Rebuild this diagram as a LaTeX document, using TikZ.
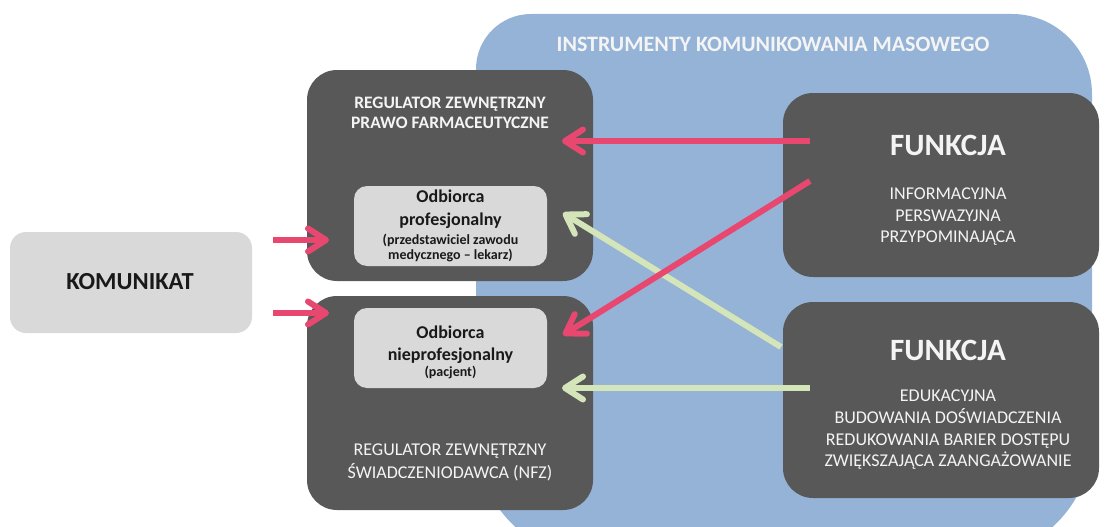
\documentclass[tikz,border=0pt]{standalone}
\usepackage{fontspec}
\setmainfont{Carlito}
\usetikzlibrary{arrows.meta}

\definecolor{massblue}{HTML}{95B3D7}
\definecolor{boxdark}{HTML}{585858}
\definecolor{boxlight}{HTML}{D9D9D9}
\definecolor{txtlight}{HTML}{F4F4F4}
\definecolor{linkpink}{HTML}{E8476F}
\definecolor{linkgreen}{HTML}{D5E5BA}

\newcommand\setfs[2]{\fontsize{#1}{#2}\selectfont}

\tikzset{
  darkbox/.style={fill=boxdark, rounded corners=30pt, inner sep=0pt},
  litebox/.style={fill=boxlight, rounded corners=13pt, inner sep=0pt},
  ondark/.style={text=txtlight, align=center, inner sep=0pt},
  onlite/.style={text=black!90, align=center, inner sep=0pt},
  link/.style={line width=6pt,
    -{Straight Barb[length=18pt,width=23pt,round]}},
  pinklink/.style={link, draw=linkpink},
  greenlink/.style={link, draw=linkgreen},
}

\begin{document}
\begin{tikzpicture}[x=1pt,y=-1pt]
\useasboundingbox (0,0) rectangle (1105,527);
\clip (0,0) rectangle (1105,527);

% mass-communication area in the background
\fill[massblue] (476,69) arc[start angle=180,end angle=270,radius=55]
  -- (1012,14) arc[start angle=270,end angle=360,radius=80]
  -- (1092,438) arc[start angle=0,end angle=90,radius=120]
  -- (596,558) arc[start angle=90,end angle=180,radius=120] -- cycle;
\node[text=txtlight, font=\bfseries\setfs{22}{26}, inner sep=0pt] (title) at (773,44)
  {INSTRUMENTY KOMUNIKOWANIA MASOWEGO};

% message
\node[litebox, rounded corners=16pt, minimum width=242pt, minimum height=101pt] (kom) at (131,282.5) {};
\node[onlite, font=\bfseries\setfs{24.5}{28}] (komtxt) at (130,282) {KOMUNIKAT};

% regulators with their recipients
\node[darkbox, minimum width=286pt, minimum height=211pt] (regtop) at (450,175.5) {};
\node[darkbox, minimum width=286pt, minimum height=214pt] (regbot) at (450,403) {};
\node[litebox, minimum width=193pt, minimum height=80pt] (prof) at (450.5,226) {};
\node[litebox, minimum width=193pt, minimum height=80pt] (lay) at (450.5,348) {};

\node[ondark, font=\bfseries\setfs{17.5}{20}] (regtoptxt) at (450,113)
  {REGULATOR ZEWNĘTRZNY\\PRAWO FARMACEUTYCZNE};
\node[ondark, font=\setfs{18}{23}] (regbottxt) at (450,462)
  {REGULATOR ZEWNĘTRZNY\\ŚWIADCZENIODAWCA (NFZ)};

\node[onlite, font=\bfseries\setfs{18}{23}] (proftitle) at (450.5,209)
  {Odbiorca\\profesjonalny};
\node[onlite, font=\bfseries\setfs{14}{15}] (profnote) at (450.5,248)
  {(przedstawiciel zawodu\\medycznego – lekarz)};
\node[onlite, font=\bfseries\setfs{18}{22}] (laytitle) at (450.5,344.5)
  {Odbiorca\\nieprofesjonalny};
\node[onlite, font=\bfseries\setfs{14}{15}] (laynote) at (450.5,372)
  {(pacjent)};

% functions
\node[darkbox, minimum width=316pt, minimum height=184pt] (funtop) at (941,185) {};
\node[darkbox, minimum width=316pt, minimum height=196pt] (funbot) at (941,400) {};

\node[ondark, font=\bfseries\setfs{31}{34}] (funtoph) at (948,145) {FUNKCJA};
\node[ondark, font=\setfs{18}{21.5}] (funtoptxt) at (948,217)
  {INFORMACYJNA\\PERSWAZYJNA\\PRZYPOMINAJĄCA};
\node[ondark, font=\bfseries\setfs{31}{34}] (funboth) at (948,350) {FUNKCJA};
\node[ondark, font=\setfs{18}{21.7}] (funbottxt) at (948,430)
  {EDUKACYJNA\\BUDOWANIA DOŚWIADCZENIA\\REDUKOWANIA BARIER DOSTĘPU\\ZWIĘKSZAJĄCA ZAANGAŻOWANIE};

% connector ends
\coordinate (k1) at (273,240);   \coordinate (r1) at (329,240);
\coordinate (k2) at (273,313);   \coordinate (r2) at (329,313);
\coordinate (f1) at (810,141);   \coordinate (t1) at (562,141);
\coordinate (f2) at (810,181);   \coordinate (t2) at (563,335);
\coordinate (f3) at (781,347);   \coordinate (t3) at (563,213);
\coordinate (f4) at (810,388);   \coordinate (t4) at (562,388);

% connectors
\draw[pinklink] (k1) -- (r1);
\draw[pinklink] (k2) -- (r2);
\draw[greenlink] (f3) -- (t3);
\draw[greenlink] (f4) -- (t4);
\draw[pinklink] (f1) -- (t1);
\draw[pinklink] (f2) -- (t2);
\end{tikzpicture}
\end{document}
